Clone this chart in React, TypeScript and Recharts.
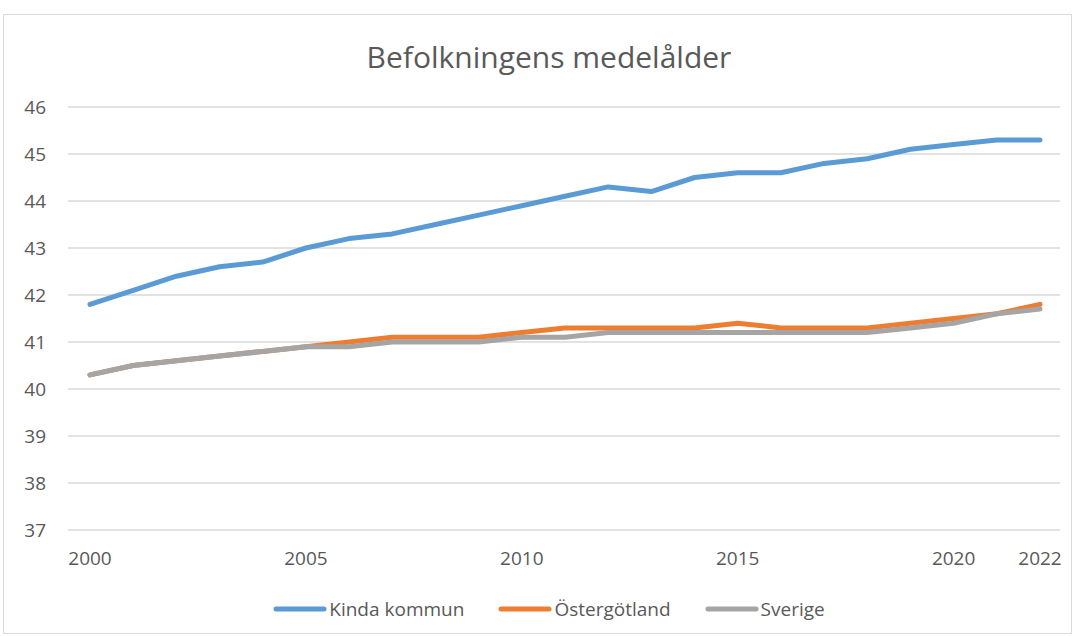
import React from "react"
import { LineChart, Line, XAxis, YAxis, CartesianGrid } from "recharts"

const years = [
    2000, 2001, 2002, 2003, 2004, 2005, 2006, 2007, 2008, 2009, 2010, 2011,
    2012, 2013, 2014, 2015, 2016, 2017, 2018, 2019, 2020, 2021, 2022,
]

const kinda = [
    41.8, 42.1, 42.4, 42.6, 42.7, 43.0, 43.2, 43.3, 43.5, 43.7, 43.9, 44.1,
    44.3, 44.2, 44.5, 44.6, 44.6, 44.8, 44.9, 45.1, 45.2, 45.3, 45.3,
]

const ostergotland = [
    40.3, 40.5, 40.6, 40.7, 40.8, 40.9, 41.0, 41.1, 41.1, 41.1, 41.2, 41.3,
    41.3, 41.3, 41.3, 41.4, 41.3, 41.3, 41.3, 41.4, 41.5, 41.6, 41.8,
]

const sverige = [
    40.3, 40.5, 40.6, 40.7, 40.8, 40.9, 40.9, 41.0, 41.0, 41.0, 41.1, 41.1,
    41.2, 41.2, 41.2, 41.2, 41.2, 41.2, 41.2, 41.3, 41.4, 41.6, 41.7,
]

const yTicks = [37, 38, 39, 40, 41, 42, 43, 44, 45, 46]
const shownYears = [2000, 2005, 2010, 2015, 2020, 2022]

const series = [
    { key: "kinda", name: "Kinda kommun", color: "#5b9bd5" },
    { key: "ostergotland", name: "Östergötland", color: "#ed7d31" },
    { key: "sverige", name: "Sverige", color: "#a5a5a5" },
]

const data = years.map((year, i) => ({
    year: String(year),
    kinda: kinda[i],
    ostergotland: ostergotland[i],
    sverige: sverige[i],
}))

const font = "'Open Sans', sans-serif"
const textColor = "#595959"

export default function App() {
    return (
        <div style={{ position: "absolute", left: 0, top: 0, width: 1075, height: 636, background: "#fff", fontFamily: font }}>
            {/* chart frame */}
            <div style={{ position: "absolute", left: 3, top: 14, width: 1069, height: 620, border: "1px solid #d9d9d9", boxSizing: "border-box" }} />

            <div style={{ position: "absolute", left: 0, top: 38, width: 1098, textAlign: "center", fontSize: 30, color: textColor, lineHeight: "38px" }}>
                Befolkningens medelålder
            </div>

            <div style={{ position: "absolute", left: 0, top: 0 }}>
                <LineChart width={1075} height={636} data={data} margin={{ top: 107, right: 15, bottom: 66, left: 0 }}>
                    <CartesianGrid horizontal vertical={false} stroke="#d9d9d9" strokeWidth={1.5} />
                    <XAxis
                        dataKey="year"
                        interval={0}
                        padding={{ left: 22, right: 20 }}
                        axisLine={false}
                        tickLine={false}
                        tickSize={0}
                        tickMargin={22}
                        height={40}
                        tick={{ fill: textColor, fontSize: 19, fontFamily: font }}
                        tickFormatter={(v: string) => (shownYears.includes(Number(v)) ? v : "")}
                    />
                    <YAxis
                        domain={[37, 46]}
                        ticks={yTicks}
                        width={68}
                        axisLine={false}
                        tickLine={false}
                        tickSize={0}
                        tickMargin={22}
                        tick={{ fill: textColor, fontSize: 19, fontFamily: font }}
                    />
                    {series.map((s) => (
                        <Line
                            key={s.key}
                            type="linear"
                            dataKey={s.key}
                            name={s.name}
                            stroke={s.color}
                            strokeWidth={5}
                            strokeLinecap="round"
                            strokeLinejoin="round"
                            dot={false}
                            isAnimationActive={false}
                        />
                    ))}
                </LineChart>
            </div>

            {/* legend */}
            <div style={{ position: "absolute", left: 0, top: 596, width: 1098, display: "flex", justifyContent: "center", fontSize: 19, color: textColor, lineHeight: "26px" }}>
                {series.map((s, i) => (
                    <div key={s.key} style={{ display: "flex", alignItems: "center", marginLeft: i === 0 ? 0 : 34 }}>
                        <svg width={54} height={10} style={{ marginRight: 2 }}>
                            <line x1={3} y1={5} x2={51} y2={5} stroke={s.color} strokeWidth={5} strokeLinecap="round" />
                        </svg>
                        <span>{s.name}</span>
                    </div>
                ))}
            </div>
        </div>
    )
}
